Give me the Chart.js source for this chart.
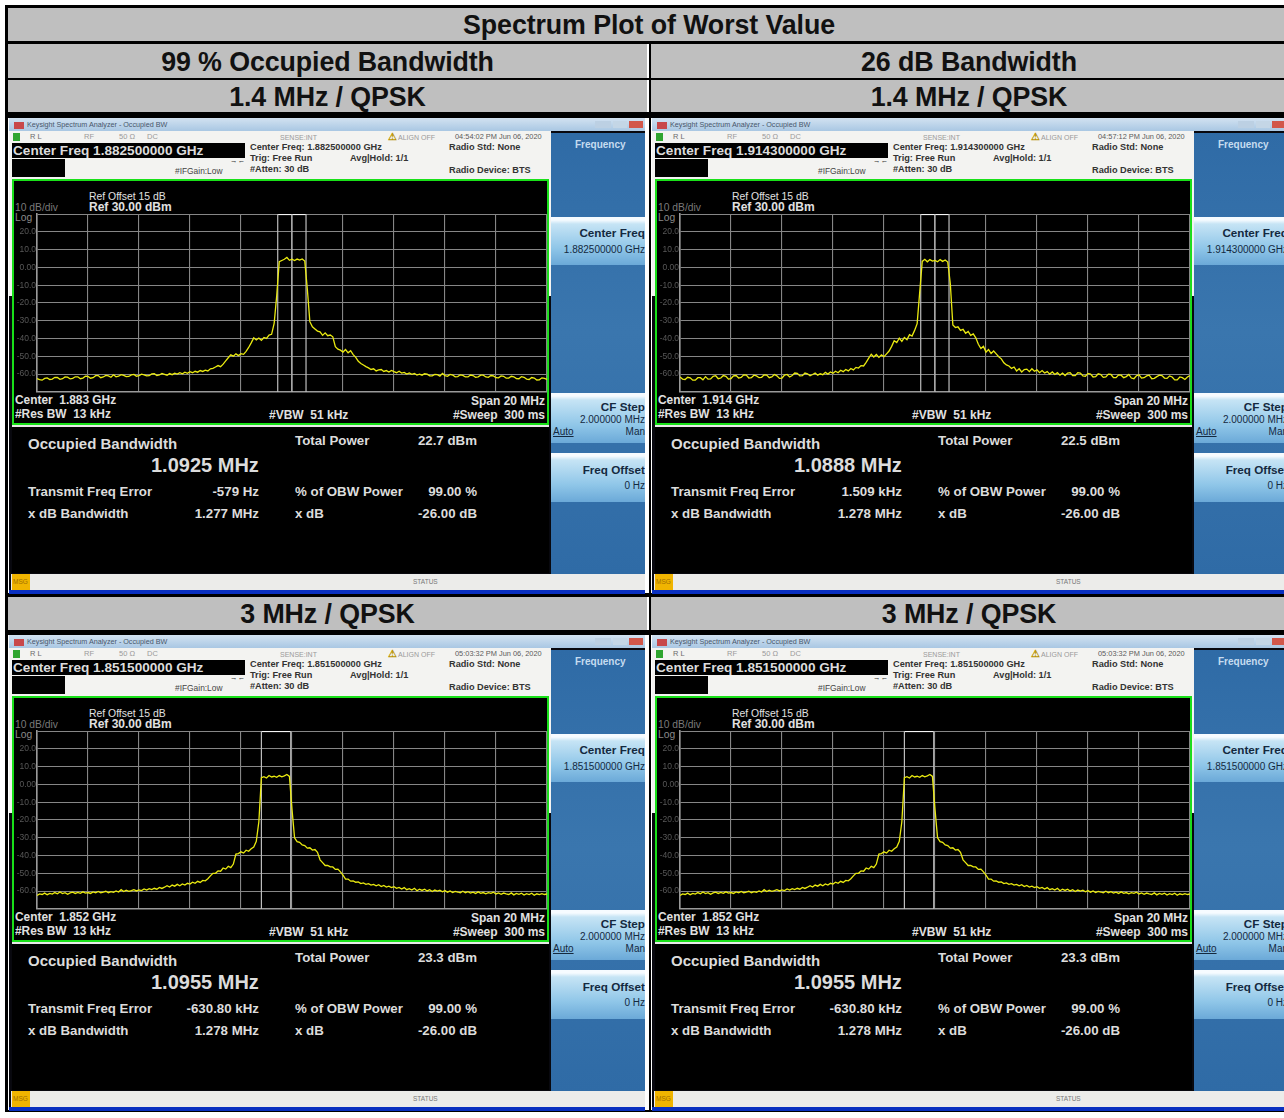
<!DOCTYPE html>
<html>
<head>
<meta charset="utf-8">
<script src="https://cdn.jsdelivr.net/npm/chart.js@4"></script>
<style>
  html, body { margin: 0; padding: 0; background: #fff; width: 1284px; height: 1118px; overflow: hidden; font-family: "Liberation Sans", Arial, sans-serif; }
  .frame { position: absolute; background: #000; }
  .head { position: absolute; background: #bfbfbf; color: #111; font-weight: bold; text-align: center; display: flex; align-items: center; justify-content: center; font-size: 26.8px; letter-spacing: -0.1px; padding-top: 2px; box-sizing: border-box; }
  .panel { position: absolute; width: 636px; height: 476px; overflow: hidden; background: #08080e; filter: blur(0.45px); }
  .box { position: absolute; }
  .txt { position: absolute; white-space: nowrap; line-height: 1; transform: translateY(-50%); }
  .key { background: linear-gradient(#f6fbff 0, #f6fbff 3px, #c6e4f5 7px, #8fc6e8 65%, #6ba9d8 100%); }
  canvas { position: absolute; }
</style>
</head>
<body>
<script>
// frequency offset from span centre in MHz, shared by all traces
const offsetsMHz = [
  -10,-9.9,-9.8,-9.7,-9.6,-9.5,-9.4,-9.3,-9.2,-9.1,
  -9,-8.9,-8.8,-8.7,-8.6,-8.5,-8.4,-8.3,-8.2,-8.1,
  -8,-7.9,-7.8,-7.7,-7.6,-7.5,-7.4,-7.3,-7.2,-7.1,
  -7,-6.9,-6.8,-6.7,-6.6,-6.5,-6.4,-6.3,-6.2,-6.1,
  -6,-5.9,-5.8,-5.7,-5.6,-5.5,-5.4,-5.3,-5.2,-5.1,
  -5,-4.9,-4.8,-4.7,-4.6,-4.5,-4.4,-4.3,-4.2,-4.1,
  -4,-3.9,-3.8,-3.7,-3.6,-3.5,-3.4,-3.3,-3.2,-3.1,
  -3,-2.9,-2.8,-2.7,-2.6,-2.5,-2.4,-2.3,-2.2,-2.1,
  -2,-1.9,-1.8,-1.7,-1.6,-1.5,-1.4,-1.3,-1.2,-1.1,
  -1,-0.9,-0.8,-0.7,-0.6,-0.5,-0.4,-0.3,-0.2,-0.1,
  0,0.1,0.2,0.3,0.4,0.5,0.6,0.7,0.8,0.9,
  1,1.1,1.2,1.3,1.4,1.5,1.6,1.7,1.8,1.9,
  2,2.1,2.2,2.3,2.4,2.5,2.6,2.7,2.8,2.9,
  3,3.1,3.2,3.3,3.4,3.5,3.6,3.7,3.8,3.9,
  4,4.1,4.2,4.3,4.4,4.5,4.6,4.7,4.8,4.9,5,
  5.1,5.2,5.3,5.4,5.5,5.6,5.7,5.8,5.9,6,
  6.1,6.2,6.3,6.4,6.5,6.6,6.7,6.8,6.9,7,
  7.1,7.2,7.3,7.4,7.5,7.6,7.7,7.8,7.9,8,
  8.1,8.2,8.3,8.4,8.5,8.6,8.7,8.8,8.9,9,
  9.1,9.2,9.3,9.4,9.5,9.6,9.7,9.8,9.9,10
];

const traceLow = [
  -62.5,-63.1,-63.4,-62.4,-62.1,-63.0,-62.8,-61.8,-61.9,-62.9,
  -62.6,-61.6,-61.7,-62.7,-62.4,-61.5,-61.5,-62.6,-62.2,-61.2,
  -61.3,-62.3,-62.0,-60.9,-60.8,-62.0,-61.6,-60.7,-61.0,-61.8,
  -60.4,-61.5,-61.2,-60.3,-60.7,-61.4,-61.3,-60.4,-60.2,-61.2,
  -60.9,-60.0,-60.4,-61.0,-60.9,-59.9,-59.8,-60.8,-60.5,-59.6,
  -60.1,-60.6,-59.7,-60.3,-59.5,-60.0,-59.2,-59.8,-58.9,-59.5,
  -58.6,-59.2,-58.4,-58.9,-58.0,-58.5,-57.8,-58.2,-57.0,-56.8,
  -56.0,-55.2,-55.8,-54.4,-52.6,-50.8,-49.2,-49.9,-48.6,-49.6,
  -48.5,-48.9,-47.2,-45.0,-42.4,-39.6,-40.8,-39.7,-41.0,-39.4,
  -39.9,-38.0,-37.6,-31.5,-16.0,3.2,3.9,4.6,5.6,4.0,
  4.6,3.9,4.7,4.1,4.8,3.6,-12.0,-30.5,-33.4,-34.6,
  -35.8,-36.2,-38.2,-36.8,-38.4,-38.0,-39.0,-44.6,-46.0,-46.5,
  -47.6,-46.2,-48.0,-46.8,-49.0,-50.6,-52.8,-54.0,-54.9,-55.8,
  -56.5,-57.4,-57.0,-58.2,-57.6,-57.4,-58.5,-58.0,-58.8,-57.9,
  -58.6,-59.2,-58.4,-59.4,-59.0,-60.0,-59.3,-60.1,-59.6,-60.5,-60.0,
  -60.6,-59.8,-60.0,-61.0,-61.0,-60.2,-60.3,-61.1,-59.6,-60.8,
  -61.2,-60.2,-60.5,-61.5,-61.4,-60.4,-60.7,-61.6,-61.6,-60.5,
  -60.8,-61.8,-61.5,-60.6,-60.6,-61.6,-61.8,-60.8,-61.0,-62.0,
  -62.1,-61.0,-61.2,-62.3,-62.2,-61.2,-61.5,-62.5,-62.6,-61.4,
  -61.8,-62.8,-63.0,-61.9,-62.2,-63.3,-63.2,-62.1,-62.4,-63.0
];

const traceHigh = [
  -61.6,-62.8,-63.0,-61.8,-62.1,-63.4,-63.4,-62.0,-62.0,-63.2,
  -61.4,-62.8,-62.7,-61.2,-60.9,-62.6,-62.2,-60.8,-61.2,-62.8,
  -62.5,-61.0,-60.8,-62.2,-61.9,-60.4,-60.6,-62.2,-62.0,-60.6,
  -61.0,-62.0,-61.8,-60.4,-60.5,-62.0,-61.6,-60.2,-61.0,-62.4,
  -62.2,-60.6,-60.2,-61.6,-60.8,-59.4,-59.6,-61.0,-60.9,-59.4,
  -59.8,-60.9,-60.2,-59.4,-60.6,-59.8,-60.3,-59.0,-60.0,-58.8,
  -59.5,-58.4,-59.2,-57.8,-58.6,-57.4,-58.2,-56.8,-57.6,-56.2,
  -56.6,-55.2,-55.4,-53.4,-51.0,-48.8,-50.4,-49.0,-50.6,-49.2,
  -50.2,-48.6,-47.0,-44.4,-41.2,-42.2,-39.8,-41.6,-39.4,-40.6,
  -37.8,-38.6,-35.4,-31.6,-14.0,3.4,4.6,3.2,4.4,3.6,
  4.0,3.2,4.4,3.4,4.2,3.0,-9.0,-32.4,-33.8,-33.4,
  -35.4,-34.8,-37.0,-36.0,-38.2,-37.4,-39.6,-43.2,-45.6,-44.4,
  -47.6,-46.2,-48.4,-47.0,-48.6,-50.2,-51.4,-53.6,-54.8,-55.4,
  -56.8,-56.0,-58.2,-57.0,-58.8,-57.4,-57.2,-58.6,-57.0,-58.4,
  -57.6,-59.2,-58.0,-59.4,-58.6,-60.0,-58.8,-60.2,-59.2,-60.6,-59.4,
  -60.8,-59.4,-59.2,-60.9,-60.9,-59.2,-59.4,-61.0,-61.2,-59.6,
  -60.0,-61.6,-61.4,-59.8,-60.2,-61.8,-61.6,-60.0,-60.2,-62.0,
  -62.0,-60.4,-60.6,-62.0,-61.4,-60.2,-62.2,-62.6,-60.9,-60.4,
  -62.2,-62.0,-61.0,-60.6,-62.6,-62.4,-61.4,-60.6,-60.8,-62.2,
  -62.4,-61.0,-61.6,-63.2,-63.2,-61.6,-62.0,-63.0,-61.6,-60.8
];

const traceMid = [
  -62.4,-61.6,-61.9,-61.1,-62.0,-61.3,-61.7,-60.8,-61.5,-60.5,
  -61.4,-60.9,-61.8,-61.0,-60.6,-61.3,-60.7,-61.2,-60.4,-61.1,
  -60.8,-61.3,-60.5,-61.0,-60.2,-60.9,-60.6,-60.1,-60.9,-60.3,
  -60.7,-59.9,-60.5,-59.2,-60.2,-59.5,-60.1,-59.7,-59.2,-59.9,
  -59.3,-59.7,-58.8,-59.4,-58.6,-59.1,-58.4,-58.9,-57.9,-58.5,
  -57.8,-57.0,-57.7,-56.6,-57.2,-56.2,-57.0,-56.0,-56.6,-55.6,
  -56.0,-55.0,-55.6,-54.5,-55.1,-54.0,-54.2,-53.0,-51.4,-50.0,
  -50.0,-48.6,-48.8,-47.0,-47.6,-46.0,-46.8,-44.8,-39.2,-38.9,
  -37.9,-38.6,-37.0,-37.6,-36.2,-35.2,-32.0,-21.0,3.8,4.4,
  3.6,5.0,4.2,4.6,4.0,5.0,4.3,4.8,5.6,4.5,
  -14.0,-30.0,-32.2,-32.6,-34.0,-34.4,-35.8,-35.6,-36.9,-36.6,
  -38.2,-42.4,-44.0,-45.6,-45.6,-46.4,-46.4,-47.8,-47.6,-49.2,
  -51.0,-53.2,-53.2,-54.4,-54.2,-55.0,-54.8,-55.8,-55.4,-56.2,
  -55.8,-56.6,-56.2,-57.0,-56.4,-57.4,-56.8,-57.7,-57.2,-58.0,
  -57.5,-58.4,-57.9,-58.8,-58.0,-59.2,-58.6,-59.4,-58.4,-59.8,-58.9,
  -59.6,-58.9,-59.9,-59.2,-60.2,-59.4,-60.0,-59.5,-60.4,-59.7,
  -60.6,-59.9,-60.8,-60.2,-60.5,-61.0,-60.1,-60.9,-60.3,-61.1,
  -60.6,-61.3,-60.4,-61.2,-60.8,-61.5,-60.9,-61.3,-60.6,-61.6,
  -61.0,-61.8,-61.1,-61.6,-61.9,-61.0,-62.1,-61.3,-61.8,-61.2,
  -62.2,-61.4,-61.9,-61.2,-62.3,-61.5,-62.0,-61.4,-61.9,-61.6
];

// amplitude axis, bottom to top
const yTickLabels = ['', '-60.0', '-50.0', '-40.0', '-30.0', '-20.0', '-10.0', '0.00', '10.0', '20.0', ''];

// one entry per analyzer screen
const screenTraces = [traceLow, traceHigh, traceMid, traceMid];
const screenMarkers = [[-0.56, 0, 0.55], [-0.56, 0, 0.55], [-1.2, -0.05], [-1.2, -0.05]];
const centerFreqs = ['1.882500000 GHz', '1.914300000 GHz', '1.851500000 GHz', '1.851500000 GHz'];
const centerShort = ['1.883 GHz', '1.914 GHz', '1.852 GHz', '1.852 GHz'];
const timestamps = ['04:54:02 PM Jun 06, 2020', '04:57:12 PM Jun 06, 2020', '05:03:32 PM Jun 06, 2020', '05:03:32 PM Jun 06, 2020'];
const totalPower = ['22.7 dBm', '22.5 dBm', '23.3 dBm', '23.3 dBm'];
const occupiedBw = ['1.0925 MHz', '1.0888 MHz', '1.0955 MHz', '1.0955 MHz'];
const freqError = ['-579 Hz', '1.509 kHz', '-630.80 kHz', '-630.80 kHz'];
const xdbBandwidth = ['1.277 MHz', '1.278 MHz', '1.278 MHz', '1.278 MHz'];
const panelOrigins = [[9, 118], [652, 118], [9, 635], [652, 635]];

function add(parent, cls, css, text) {
  const el = document.createElement('div');
  el.className = cls;
  el.style.cssText = css;
  if (text !== undefined) el.textContent = text;
  parent.appendChild(el);
  return el;
}

function rect(parent, x, y, w, h, bg, cls) {
  return add(parent, 'box ' + (cls || ''), `left:${x}px;top:${y}px;width:${w}px;height:${h}px;${bg ? 'background:' + bg + ';' : ''}`);
}

// x,y are the left edge and vertical centre of the text
function label(parent, text, x, y, size, color, extra) {
  return add(parent, 'txt', `left:${x}px;top:${y}px;font-size:${size}px;color:${color};${extra || ''}`, text);
}

// same, but x is the right edge
function labelR(parent, text, x, y, size, color, extra) {
  return add(parent, 'txt', `right:${636 - x}px;top:${y}px;font-size:${size}px;color:${color};${extra || ''}`, text);
}

function drawHeaders() {
  add(document.body, 'frame', 'left:5px;top:5px;width:1279px;height:3px');
  add(document.body, 'frame', 'left:5px;top:5px;width:3px;height:1107px');
  add(document.body, 'frame', 'left:5px;top:1110px;width:1279px;height:2px');
  add(document.body, 'frame', 'left:5px;top:41px;width:1279px;height:3px');
  add(document.body, 'frame', 'left:5px;top:78px;width:1279px;height:2px');
  add(document.body, 'frame', 'left:5px;top:112px;width:1279px;height:6px');
  add(document.body, 'frame', 'left:5px;top:593px;width:1279px;height:4px');
  add(document.body, 'frame', 'left:5px;top:630px;width:1279px;height:5px');
  add(document.body, 'frame', 'left:649px;top:44px;width:2px;height:1066px');

  const heads = [
    [8, 8, 1282, 33, 'Spectrum Plot of Worst Value'],
    [8, 44, 639, 34, '99 % Occupied Bandwidth'],
    [651, 44, 636, 34, '26 dB Bandwidth'],
    [8, 80, 639, 32, '1.4 MHz / QPSK'],
    [651, 80, 636, 32, '1.4 MHz / QPSK'],
    [8, 597, 639, 33, '3 MHz / QPSK'],
    [651, 597, 636, 33, '3 MHz / QPSK']
  ];
  heads.forEach(h => add(document.body, 'head', `left:${h[0]}px;top:${h[1]}px;width:${h[2]}px;height:${h[3]}px`, h[4]));
  add(document.body, 'frame', 'left:649px;top:44px;width:2px;height:553px');
}

function drawSoftkeys(p, i) {
  rect(p, 542, 15, 94, 441, 'linear-gradient(#2f6ba6,#3a76ae 45%,#2f6ba6)');
  label(p, 'Frequency', 566, 27, 10, '#c6dcf0', 'font-weight:bold');
  rect(p, 542, 99, 94, 48, '', 'key');
  labelR(p, 'Center Freq', 636, 115, 11.7, '#14293f', 'font-weight:bold');
  labelR(p, centerFreqs[i], 636, 132, 10, '#14293f');
  rect(p, 542, 275, 94, 50, '', 'key');
  labelR(p, 'CF Step', 636, 289, 11.7, '#14293f', 'font-weight:bold');
  labelR(p, '2.000000 MHz', 636, 302, 10, '#14293f');
  label(p, 'Auto', 544, 314, 10, '#14293f', 'text-decoration:underline');
  labelR(p, 'Man', 636, 314, 10, '#14293f');
  rect(p, 542, 335, 94, 49, '', 'key');
  labelR(p, 'Freq Offset', 636, 352, 11.7, '#14293f', 'font-weight:bold');
  labelR(p, '0 Hz', 636, 368, 10, '#14293f');
}

function drawTopBars(p, i) {
  rect(p, 0, 0, 636, 13, 'linear-gradient(#d2e2f1,#a9c7e3)');
  rect(p, 5, 4, 10, 7, '#c8484a');
  label(p, 'Keysight Spectrum Analyzer - Occupied BW', 18, 7, 7.2, '#48566a');
  rect(p, 586, 3, 16, 7, '#bcd0e3');
  rect(p, 604, 3, 14, 7, '#c4d6e6');
  rect(p, 620, 3, 14, 7, '#d2574a');
  rect(p, 0, 13, 542, 165, '#f3f3f1');
  rect(p, 4, 15, 7, 8, '#2fa52f');
  label(p, 'R L', 21, 19, 7.5, '#6c6c6c');
  label(p, 'RF', 75, 19, 7.5, '#9a9a9a');
  label(p, '50 Ω', 110, 19, 7.5, '#9a9a9a');
  label(p, 'DC', 138, 19, 7.5, '#9a9a9a');
  label(p, 'SENSE:INT', 271, 19, 7, '#9a9a9a');
  label(p, '⚠', 379, 19, 10, '#b99400', 'font-weight:bold');
  label(p, 'ALIGN OFF', 389, 19, 7, '#9a9a9a');
  label(p, timestamps[i], 446, 19, 7.4, '#5a5a5a');
  rect(p, 3, 25, 233, 15, '#000');
  label(p, 'Center Freq ' + centerFreqs[i], 4, 33, 13.6, '#dcdcdc', 'font-weight:bold');
  rect(p, 3, 41, 53, 18, '#000');
  label(p, 'Center Freq: ' + centerFreqs[i], 241, 30, 9.2, '#333', 'font-weight:bold');
  label(p, 'Trig: Free Run', 241, 41, 9.2, '#333', 'font-weight:bold');
  label(p, 'Avg|Hold: 1/1', 341, 41, 9.2, '#333', 'font-weight:bold');
  label(p, '#Atten: 30 dB', 241, 52, 9.2, '#333', 'font-weight:bold');
  label(p, 'Radio Std: None', 440, 30, 9.2, '#333', 'font-weight:bold');
  label(p, 'Radio Device: BTS', 440, 53, 9.2, '#333', 'font-weight:bold');
  label(p, '#IFGain:Low', 166, 53, 8.4, '#444');
  label(p, '→←', 221, 43, 7.5, '#333');
}

function drawScreenText(p, i) {
  rect(p, 3, 61, 537, 246, '#000').style.cssText += 'border:2px solid #19e019;box-sizing:border-box;';
  label(p, 'Ref Offset 15 dB', 80, 79, 10.4, '#e0e0e0');
  label(p, 'Ref 30.00 dBm', 80, 89, 12, '#e0e0e0', 'font-weight:bold');
  label(p, '10 dB/div', 6, 90, 10.3, '#7a7a7a');
  label(p, 'Log', 6, 100, 10.3, '#8a8a8a');
  label(p, 'Center  ' + centerShort[i], 6, 283, 11.9, '#e0e0e0', 'font-weight:bold;white-space:pre');
  labelR(p, 'Span 20 MHz', 536, 283, 12, '#e0e0e0', 'font-weight:bold');
  label(p, '#Res BW  13 kHz', 6, 297, 11.9, '#e0e0e0', 'font-weight:bold;white-space:pre');
  label(p, '#VBW  51 kHz', 260, 297, 12, '#e0e0e0', 'font-weight:bold;white-space:pre');
  labelR(p, '#Sweep  300 ms', 536, 297, 12, '#e0e0e0', 'font-weight:bold;white-space:pre');

  rect(p, 3, 307, 537, 2, '#e8e8e8');
  rect(p, 3, 309, 537, 146, '#000');
  const c = '#dcdcdc', b = 'font-weight:bold';
  label(p, 'Occupied Bandwidth', 19, 325, 15, c, b);
  label(p, 'Total Power', 286, 323, 13.3, c, b);
  labelR(p, totalPower[i], 468, 323, 13.3, c, b);
  label(p, occupiedBw[i], 142, 347, 20, c, b);
  label(p, 'Transmit Freq Error', 19, 374, 13.3, c, b);
  labelR(p, freqError[i], 250, 374, 13.3, c, b);
  label(p, '% of OBW Power', 286, 374, 13.3, c, b);
  labelR(p, '99.00 %', 468, 374, 13.3, c, b);
  label(p, 'x dB Bandwidth', 19, 396, 13.3, c, b);
  labelR(p, xdbBandwidth[i], 250, 396, 13.3, c, b);
  label(p, 'x dB', 286, 396, 13.3, c, b);
  labelR(p, '-26.00 dB', 468, 396, 13.3, c, b);

  rect(p, 2, 456, 634, 16, '#ececea');
  rect(p, 3, 456, 18, 16, '#f0b400');
  label(p, 'MSG', 4, 464, 6.5, '#a07000');
  label(p, 'STATUS', 404, 464, 6.5, '#777');
  rect(p, 0, 472, 636, 4, '#0a30c0');
}

function drawChart(p, i) {
  const canvas = document.createElement('canvas');
  canvas.width = 536;
  canvas.height = 190;
  canvas.style.cssText = 'left:3.5px;top:90px;width:536px;height:190px';
  p.appendChild(canvas);

  const trace = screenTraces[i];
  const markers = screenMarkers[i];
  const points = offsetsMHz.map((x, n) => ({ x: x, y: trace[n] }));
  const datasets = [{
    data: points, borderColor: '#eaea10', borderWidth: 1.3, pointRadius: 0, tension: 0
  }];
  markers.forEach(m => {
    datasets.push({ data: [{ x: m, y: -70 }, { x: m, y: 30 }], borderColor: '#bdbdbd', borderWidth: 1.2, pointRadius: 0 });
  });
  datasets.push({
    data: [{ x: markers[0], y: 30 }, { x: markers[markers.length - 1], y: 30 }],
    borderColor: '#f4f4f4', borderWidth: 2, pointRadius: 0
  });

  new Chart(canvas, {
    type: 'line',
    data: { datasets: datasets },
    options: {
      responsive: false,
      animation: false,
      devicePixelRatio: 1,
      layout: { padding: { top: 2, bottom: 2, left: 0, right: 2 } },
      plugins: { legend: { display: false }, tooltip: { enabled: false } },
      scales: {
        x: {
          type: 'linear', min: -10, max: 10,
          ticks: { stepSize: 2, display: false },
          grid: { color: '#868686', lineWidth: 1.1, drawTicks: false },
          border: { color: '#9a9a9a', width: 1.6 }
        },
        y: {
          min: -70, max: 30,
          afterFit: scale => { scale.width = 24; },
          ticks: {
            stepSize: 10, padding: 1, color: '#585858', font: { size: 8.5, family: 'Liberation Sans' },
            callback: (value, index) => yTickLabels[index]
          },
          grid: { color: '#868686', lineWidth: 1.1, drawTicks: false },
          border: { color: '#9a9a9a', width: 1.6 }
        }
      }
    }
  });
}

drawHeaders();
panelOrigins.forEach((o, i) => {
  const p = add(document.body, 'panel', `left:${o[0]}px;top:${o[1]}px`);
  drawSoftkeys(p, i);
  drawTopBars(p, i);
  drawScreenText(p, i);
  drawChart(p, i);
});
</script>
</body>
</html>
